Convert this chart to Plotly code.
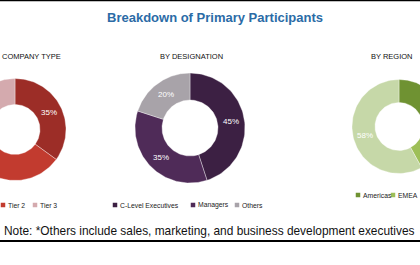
import numpy as np
import plotly.graph_objects as go

title = "Breakdown of Primary Participants"
note = "Note: *Others include sales, marketing, and business development executives"

subtitles = ["COMPANY TYPE", "BY DESIGNATION", "BY REGION"]

company_labels = ["Tier 1", "Tier 2", "Tier 3"]
company_values = [35, 45, 20]
company_colors = ["#9c2d27", "#c23b2f", "#d4aaae"]

designation_labels = ["C-Level Executives", "Managers", "Others"]
designation_values = [45, 35, 20]
designation_colors = ["#3c2043", "#4f2b58", "#a8a3a9"]

region_labels = ["Americas", "EMEA", "APAC"]
region_values = [25, 17, 58]
region_colors = ["#6f9232", "#9ebf58", "#c6d8a8"]

# layout geometry (pixel coordinates)
donuts = [
    dict(labels=company_labels, values=company_values, colors=company_colors,
         cx=15, cy=129.5, ro=51, ri=25,
         sub_x=0, sub_anchor="left", leg_y=205, leg_x=[-29, 3, 35]),
    dict(labels=designation_labels, values=designation_values, colors=designation_colors,
         cx=190, cy=128, ro=55, ri=28,
         sub_x=191.5, sub_anchor="center", leg_y=205, leg_x=[115, 193, 237]),
    dict(labels=region_labels, values=region_values, colors=region_colors,
         cx=399, cy=126.5, ro=47, ri=24,
         sub_x=392, sub_anchor="center", leg_y=195, leg_x=[358, 393, 430]),
]

fig = go.Figure()
annotations = []

for k, d in enumerate(donuts):
    vals = np.array(d["values"], dtype=float)
    total = vals.sum()
    start = 0.0
    for lab, v, col in zip(d["labels"], vals, d["colors"]):
        a0 = start / total * 2 * np.pi
        a1 = (start + v) / total * 2 * np.pi
        th = np.linspace(a0, a1, 80)
        xo = d["cx"] + d["ro"] * np.sin(th)
        yo = d["cy"] - d["ro"] * np.cos(th)
        xi = d["cx"] + d["ri"] * np.sin(th[::-1])
        yi = d["cy"] - d["ri"] * np.cos(th[::-1])
        fig.add_trace(go.Scatter(
            x=np.concatenate([xo, xi, xo[:1]]),
            y=np.concatenate([yo, yi, yo[:1]]),
            fill="toself", fillcolor=col, mode="lines",
            line=dict(color="rgba(255,255,255,0.6)", width=0.6),
            hoverinfo="text", text=f"{lab}: {int(v)}%", showlegend=False))
        am = (a0 + a1) / 2
        rm = (d["ro"] + d["ri"]) / 2
        annotations.append(dict(
            x=d["cx"] + rm * np.sin(am), y=d["cy"] - rm * np.cos(am),
            text=f"{int(v)}%", showarrow=False, xanchor="center", yanchor="middle",
            font=dict(family="Arial Black, Liberation Sans, Arial", size=8, color="white")))
        start += v

    # subtitle
    annotations.append(dict(
        x=d["sub_x"], y=56, text=subtitles[k], showarrow=False,
        xanchor=d["sub_anchor"], yanchor="middle",
        font=dict(family="Liberation Sans, Arial", size=7.5, color="#111111")))

    # legend
    fig.add_trace(go.Scatter(
        x=d["leg_x"], y=[d["leg_y"]] * len(d["leg_x"]), mode="markers",
        marker=dict(symbol="square", size=4.5, color=d["colors"]),
        hoverinfo="skip", showlegend=False))
    for lx, lab in zip(d["leg_x"], d["labels"]):
        annotations.append(dict(
            x=lx + 3, y=d["leg_y"], text=lab, showarrow=False,
            xanchor="left", yanchor="middle",
            font=dict(family="Liberation Sans, Arial", size=6.8, color="#222222")))

# title
annotations.append(dict(
    x=215, y=17, text=f"<b>{title}</b>", showarrow=False,
    xanchor="center", yanchor="middle",
    font=dict(family="Liberation Sans, Arial", size=13, color="#2b6ba6")))

# note
annotations.append(dict(
    x=2, y=231, text=note, showarrow=False, xanchor="left", yanchor="middle",
    font=dict(family="Liberation Sans, Arial", size=11.9, color="#111111")))

fig.update_layout(
    width=420, height=265,
    margin=dict(l=0, r=0, t=0, b=0),
    paper_bgcolor="white", plot_bgcolor="white",
    xaxis=dict(range=[0, 420], visible=False, fixedrange=True),
    yaxis=dict(range=[265, 0], visible=False, fixedrange=True),
    annotations=annotations,
    shapes=[
        dict(type="line", x0=0, x1=420, y0=0.5, y1=0.5, line=dict(color="black", width=1.5)),
        dict(type="line", x0=0, x1=420, y0=241, y1=241, line=dict(color="black", width=2)),
    ],
)

fig.write_html("out.html")
